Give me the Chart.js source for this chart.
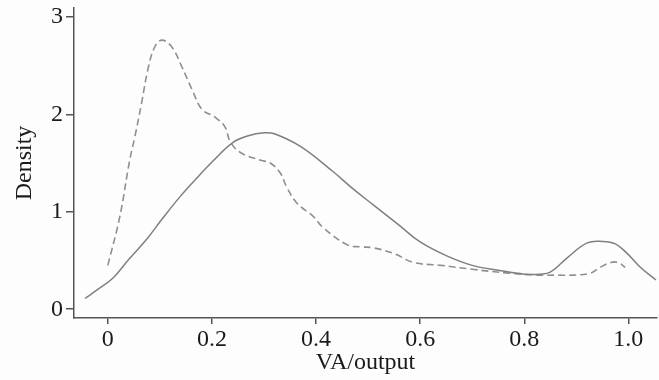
<!DOCTYPE html>
<html>
<head>
<meta charset="utf-8">
<script src="https://cdn.jsdelivr.net/npm/chart.js@4/dist/chart.umd.min.js"></script>
<style>
html,body{margin:0;padding:0;background:#fdfdfd;}
canvas{display:block;}
</style>
</head>
<body>
<canvas id="c" width="659" height="380"></canvas>
<script>
// Solid density curve
const solidX = [-0.044, -0.02, 0.01, 0.04, 0.075, 0.105, 0.138, 0.17, 0.202, 0.24, 0.27, 0.30, 0.32, 0.37, 0.433, 0.47, 0.51, 0.56, 0.60, 0.65, 0.70, 0.75, 0.80, 0.83, 0.85, 0.883, 0.921, 0.95, 0.975, 0.998, 1.023, 1.053];
const solidY = [0.11, 0.20, 0.32, 0.51, 0.72, 0.93, 1.15, 1.34, 1.52, 1.71, 1.78, 1.81, 1.80, 1.67, 1.41, 1.24, 1.07, 0.86, 0.69, 0.55, 0.45, 0.40, 0.36, 0.36, 0.38, 0.53, 0.68, 0.695, 0.67, 0.57, 0.43, 0.30];
// Dashed density curve
const dashX = [0, 0.023, 0.042, 0.052, 0.065, 0.077, 0.09, 0.104, 0.123, 0.142, 0.162, 0.181, 0.206, 0.225, 0.235, 0.254, 0.292, 0.312, 0.331, 0.344, 0.363, 0.395, 0.413, 0.46, 0.485, 0.51, 0.55, 0.587, 0.64, 0.70, 0.77, 0.83, 0.863, 0.895, 0.927, 0.946, 0.966, 0.98, 0.994];
const dashY = [0.45, 0.95, 1.53, 1.77, 2.12, 2.46, 2.69, 2.76, 2.69, 2.49, 2.25, 2.05, 1.97, 1.87, 1.72, 1.61, 1.53, 1.50, 1.40, 1.25, 1.09, 0.95, 0.84, 0.66, 0.64, 0.63, 0.57, 0.48, 0.45, 0.41, 0.37, 0.35, 0.35, 0.35, 0.37, 0.43, 0.48, 0.48, 0.43];
// Axis ticks
const xTickValues = [0, 0.2, 0.4, 0.6, 0.8, 1.0];
const xTickLabels = ['0', '0.2', '0.4', '0.6', '0.8', '1.0'];
const yTickValues = [0, 1, 2, 3];
const yTickLabels = ['0', '1', '2', '3'];
const xTitle = 'VA/output';
const yTitle = 'Density';

const toPts = (xs, ys) => xs.map((x, i) => ({x: x, y: ys[i]}));
const FONT = {family: '"Liberation Serif", "Times New Roman", serif', size: 24};
const AXIS = '#555555';

new Chart(document.getElementById('c'), {
  type: 'line',
  data: {
    datasets: [
      {data: toPts(solidX, solidY), borderColor: '#7f7f7f', borderWidth: 1.5, pointRadius: 0, tension: 0.4, fill: false},
      {data: toPts(dashX, dashY), borderColor: '#8f8f8f', borderWidth: 1.6, borderDash: [7, 4], pointRadius: 0, tension: 0.4, fill: false}
    ]
  },
  options: {
    responsive: false,
    animation: false,
    events: [],
    layout: {padding: {top: 8, right: 2, left: 0, bottom: 0}},
    plugins: {legend: {display: false}, tooltip: {enabled: false}},
    scales: {
      x: {
        type: 'linear', min: -0.065, max: 1.055,
        afterBuildTicks: s => { s.ticks = xTickValues.map(v => ({value: v})); },
        afterFit: s => { s.height = 62; s.paddingLeft = 0; s.paddingRight = 0; },
        ticks: {font: FONT, color: '#1a1a1a', padding: 1, maxRotation: 0,
          callback: (v) => { const i = xTickValues.findIndex(t => Math.abs(t - v) < 1e-9); return i >= 0 ? xTickLabels[i] : ''; }},
        grid: {display: true, drawOnChartArea: false, drawTicks: true, tickLength: 6, color: AXIS, lineWidth: 1.5},
        border: {display: true, color: AXIS, width: 1.5},
        title: {display: true, text: xTitle, font: FONT, color: '#1a1a1a', padding: {top: 0, bottom: 3}}
      },
      y: {
        type: 'linear', min: -0.09, max: 3.09,
        afterBuildTicks: s => { s.ticks = yTickValues.map(v => ({value: v})); },
        afterFit: s => { s.width = 74; s.paddingTop = 0; s.paddingBottom = 0; },
        ticks: {font: FONT, color: '#1a1a1a', padding: 3,
          callback: (v) => { const i = yTickValues.indexOf(v); return i >= 0 ? yTickLabels[i] : ''; }},
        grid: {display: true, drawOnChartArea: false, drawTicks: true, tickLength: 8, color: AXIS, lineWidth: 1.5},
        border: {display: true, color: AXIS, width: 1.5},
        title: {display: true, text: yTitle, font: FONT, color: '#1a1a1a', padding: {top: 10, bottom: 0}}
      }
    }
  }
});
</script>
</body>
</html>
